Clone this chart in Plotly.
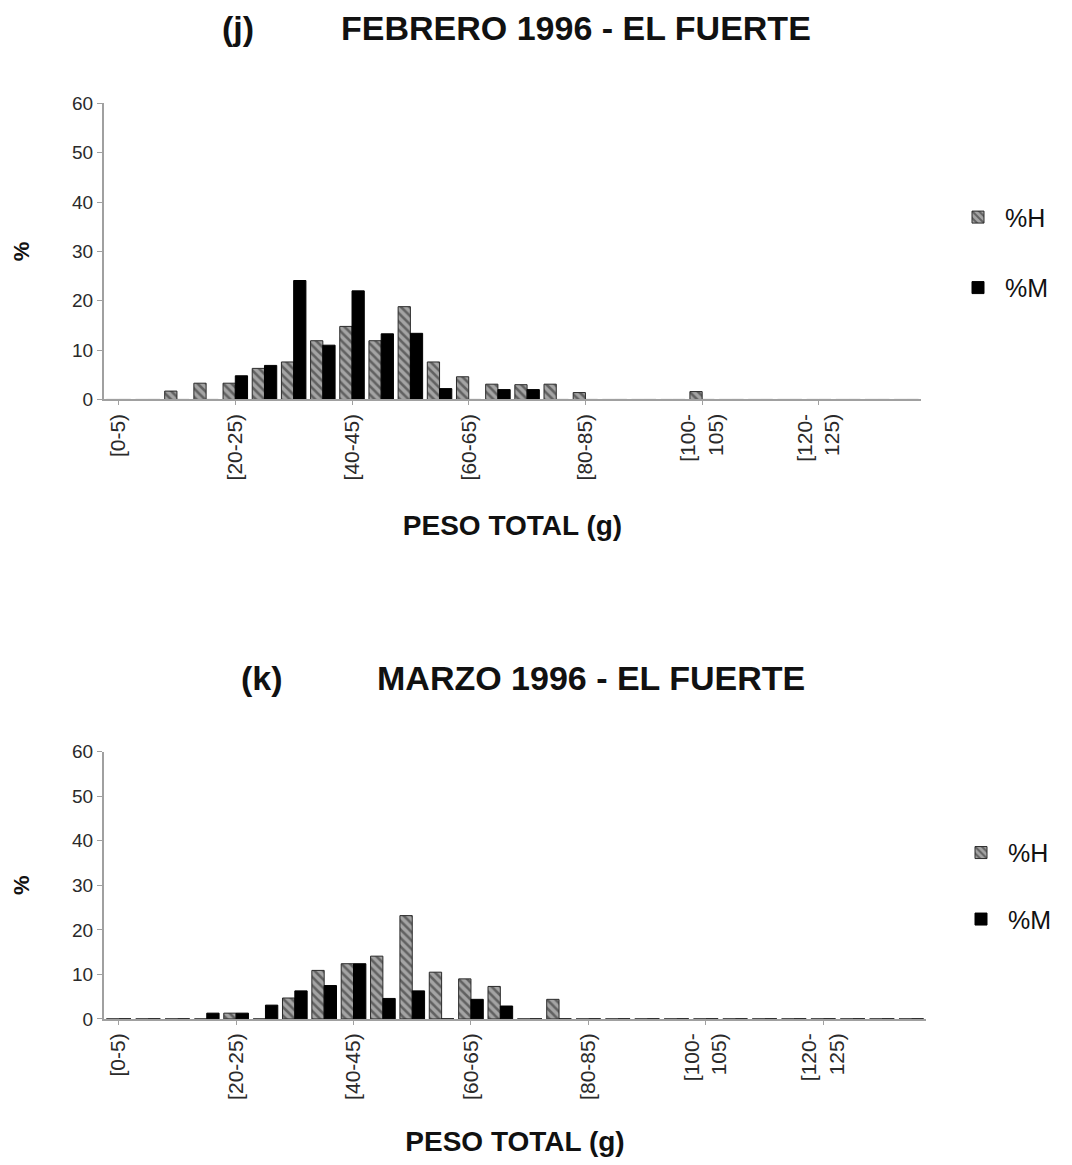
import plotly.graph_objects as go

categories = [f"[{5*i}-{5*i+5})" for i in range(28)]
tick_vals = categories[0:28:4]
tick_text = ["[0-5)", "[20-25)", "[40-45)", "[60-65)", "[80-85)", "[100-<br>105)", "[120-<br>125)"]

# Febrero 1996 (j)
feb_H = [0, 0, 1.7, 3.3, 3.3, 6.3, 7.6, 11.9, 14.8, 11.9, 18.8, 7.6, 4.6, 3.1, 3.0, 3.1,
         1.4, 0, 0, 0, 1.6, 0, 0, 0, 0, 0, 0, 0]
feb_M = [0, 0, 0, 0, 4.8, 6.9, 24.1, 11.0, 22.0, 13.3, 13.4, 2.2, 0, 2.0, 2.0, 0,
         0, 0, 0, 0, 0, 0, 0, 0, 0, 0, 0, 0]
# Marzo 1996 (k)
mar_H = [0, 0, 0, 0, 1.3, 0, 4.7, 10.9, 12.4, 14.1, 23.2, 10.5, 9.0, 7.3, 0, 4.4,
         0, 0, 0, 0, 0, 0, 0, 0, 0, 0, 0, 0]
mar_M = [0, 0, 0, 1.3, 1.3, 3.1, 6.3, 7.5, 12.4, 4.6, 6.3, 0, 4.4, 2.9, 0, 0,
         0, 0, 0, 0, 0, 0, 0, 0, 0, 0, 0, 0]

# figure sits inside the page's default body margin
OFF_X = 8
W, H = 1056, 1149
# observed vertical mapping of the page screenshot
Y_SCALE, Y_OFF = 0.981, 18.8
FONT = "Liberation Sans"
INK = "#111111"


def fx(px):
    return (px - OFF_X) / W


def fy(py):
    return 1 - ((py - Y_OFF) / Y_SCALE) / H


def hatched(name, y, xa, ya, legend):
    return go.Bar(x=categories, y=y, name=name, xaxis=xa, yaxis=ya, legend=legend,
                  legendgroup=legend + name,
                  marker=dict(color="#8c8c8c", line=dict(color="#2a2a2a", width=1),
                              pattern=dict(shape="\\", fgcolor="#1e1e1e", bgcolor="#a4a4a4",
                                           size=6, solidity=0.42)))


def solid(name, y, xa, ya, legend):
    return go.Bar(x=categories, y=y, name=name, xaxis=xa, yaxis=ya, legend=legend,
                  legendgroup=legend + name,
                  marker=dict(color="#000000", line=dict(color="#000000", width=1)))


fig = go.Figure()
fig.add_trace(hatched("%H", feb_H, "x", "y", "legend"))
fig.add_trace(solid("%M", feb_M, "x", "y", "legend"))
fig.add_trace(hatched("%H", mar_H, "x2", "y2", "legend2"))
fig.add_trace(solid("%M", mar_M, "x2", "y2", "legend2"))

axis_common = dict(showgrid=False, zeroline=False, showline=True, linecolor="#a0a0a0",
                   linewidth=2)
xcommon = dict(axis_common, type="category", categoryorder="array", categoryarray=categories,
               tickmode="array", tickvals=tick_vals, ticktext=tick_text, tickangle=-90,
               ticks="outside", ticklen=4, tickcolor="#a0a0a0",
               tickfont=dict(family=FONT, size=21, color="#2a2a2a"),
               title=dict(text="<b>PESO TOTAL (g)</b>", standoff=36,
                          font=dict(family=FONT, size=28, color=INK)))
ycommon = dict(axis_common, range=[0, 60], tickvals=[0, 10, 20, 30, 40, 50, 60],
               ticks="outside", ticklen=5, tickcolor="#a0a0a0",
               tickfont=dict(family=FONT, size=19, color="#2a2a2a"),
               title=dict(text="<b>%</b>", standoff=36,
                          font=dict(family=FONT, size=22, color=INK)))

legend_common = dict(xanchor="left", yanchor="top", itemwidth=44,
                     font=dict(family=FONT, size=25, color=INK), bgcolor="rgba(0,0,0,0)")

title_font = dict(family=FONT, size=34, color=INK)

fig.update_layout(
    width=W, height=H, margin=dict(l=0, r=0, t=0, b=0),
    paper_bgcolor="white", plot_bgcolor="white",
    barmode="group", bargap=0.16, bargroupgap=0.0,
    font=dict(family=FONT),
    xaxis=dict(xcommon, domain=[fx(104), fx(921)], anchor="y"),
    yaxis=dict(ycommon, domain=[fy(400), fy(104)], anchor="x"),
    xaxis2=dict(xcommon, domain=[fx(104), fx(926)], anchor="y2"),
    yaxis2=dict(ycommon, domain=[fy(1019), fy(752)], anchor="x2"),
    legend=dict(legend_common, x=fx(951), y=fy(195), tracegroupgap=35),
    legend2=dict(legend_common, x=fx(954), y=fy(830), tracegroupgap=31),
    annotations=[
        dict(text="<b>(j)</b>", x=fx(238), y=fy(29), xref="paper", yref="paper",
             xanchor="center", yanchor="middle", showarrow=False, font=title_font),
        dict(text="<b>FEBRERO 1996 - EL FUERTE</b>", x=fx(576), y=fy(29),
             xref="paper", yref="paper", xanchor="center", yanchor="middle",
             showarrow=False, font=title_font),
        dict(text="<b>(k)</b>", x=fx(262), y=fy(678), xref="paper", yref="paper",
             xanchor="center", yanchor="middle", showarrow=False, font=title_font),
        dict(text="<b>MARZO 1996 - EL FUERTE</b>", x=fx(591), y=fy(678),
             xref="paper", yref="paper", xanchor="center", yanchor="middle",
             showarrow=False, font=title_font),
    ],
)

fig.write_html("out.html")
